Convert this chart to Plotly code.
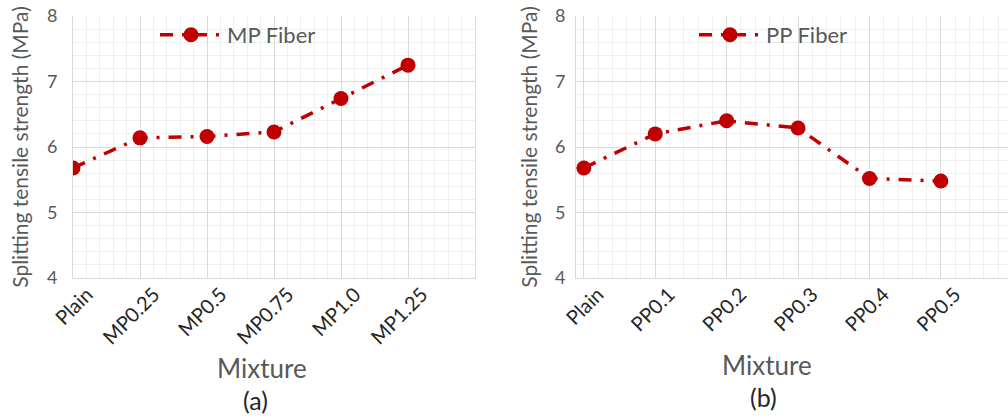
import plotly.graph_objects as go

# Mixture labels and splitting tensile strength (MPa)
mp_mixtures = ["Plain", "MP0.25", "MP0.5", "MP0.75", "MP1.0", "MP1.25"]
mp_strength = [5.68, 6.14, 6.16, 6.23, 6.74, 7.25]

pp_mixtures = ["Plain", "PP0.1", "PP0.2", "PP0.3", "PP0.4", "PP0.5"]
pp_strength = [5.68, 6.20, 6.40, 6.29, 5.52, 5.48]

y_ticks = [4, 5, 6, 7, 8]

W, H = 1008, 419
RED = "#C00000"
GRAY_TXT = "#595959"
FONT = "Lato, 'Open Sans', sans-serif"
DASH = "13px,9px,3px,9px"

fig = go.Figure()

fig.add_trace(go.Scatter(
    x=list(range(len(mp_mixtures))), y=mp_strength, name="MP Fiber",
    mode="lines+markers", xaxis="x", yaxis="y", legend="legend",
    line=dict(color=RED, width=3.5, dash=DASH),
    marker=dict(color=RED, size=15),
))
fig.add_trace(go.Scatter(
    x=list(range(len(pp_mixtures))), y=pp_strength, name="PP Fiber",
    mode="lines+markers", xaxis="x2", yaxis="y2", legend="legend2",
    line=dict(color=RED, width=3.5, dash=DASH),
    marker=dict(color=RED, size=15),
))

def xaxis_style(domain, rng, labels, anchor):
    return dict(
        domain=domain, range=rng, anchor=anchor,
        tickmode="array", tickvals=list(range(len(labels))), ticktext=labels,
        tickangle=-45, tickfont=dict(family=FONT, size=20, color="#262626"),
        ticklabelshift=14, ticklabelstandoff=-4,
        showgrid=True, gridcolor="#D9D9D9", gridwidth=1,
        minor=dict(dtick=0.2, tick0=0, showgrid=True, gridcolor="#EFEFEF", gridwidth=1),
        showline=True, linecolor="#D9D9D9", linewidth=1,
        zeroline=False, ticks="",
        automargin=False,
    )

def yaxis_style(anchor, standoff_lbl, title_gap, mirror):
    return dict(
        range=[4, 8], anchor=anchor, domain=[0, 1],
        tickmode="array", tickvals=y_ticks,
        tickfont=dict(family=FONT, size=18, color=GRAY_TXT),
        ticklabelstandoff=standoff_lbl,
        showgrid=True, gridcolor="#D9D9D9", gridwidth=1,
        minor=dict(dtick=0.2, tick0=4, showgrid=True, gridcolor="#EFEFEF", gridwidth=1),
        showline=True, linecolor="#D9D9D9", linewidth=1, mirror=mirror,
        zeroline=False, ticks="",
        title=dict(text="Splitting tensile strength (MPa)",
                   font=dict(family=FONT, size=21, color=GRAY_TXT), standoff=title_gap),
        automargin=False,
    )

top, bottom = 16, 141
ph = H - top - bottom

def py(y_px):
    # pixel row -> paper coordinate
    return (H - bottom - y_px) / ph

legend_font = dict(family=FONT, size=22, color=GRAY_TXT)

fig.update_layout(
    width=W, height=H,
    margin=dict(l=0, r=0, t=top, b=bottom),
    paper_bgcolor="white", plot_bgcolor="white",
    font=dict(family=FONT),
    xaxis=xaxis_style([73 / W, 475 / W], [0, 6], mp_mixtures, "y"),
    yaxis=yaxis_style("x", 11, 12, True),
    xaxis2=xaxis_style([576 / W, 1.0], [-0.11, 5.94], pp_mixtures, "y2"),
    yaxis2=yaxis_style("x2", 6, 11, False),
    legend=dict(x=155 / W, y=py(35), xanchor="left", yanchor="middle", itemwidth=62,
                bgcolor="rgba(0,0,0,0)", font=legend_font),
    legend2=dict(x=694 / W, y=py(35), xanchor="left", yanchor="middle", itemwidth=62,
                 bgcolor="rgba(0,0,0,0)", font=legend_font),
    showlegend=True,
)

# axis captions and panel labels
for label, xc, yc, size, color in [
    ("Mixture", 262, 368, 26, GRAY_TXT),
    ("Mixture", 767, 365, 26, GRAY_TXT),
    ("(a)", 255, 400, 25, "#262626"),
    ("(b)", 763, 397, 25, "#262626"),
]:
    fig.add_annotation(
        text=label, xref="paper", yref="paper",
        x=xc / W, y=py(yc), xanchor="center", yanchor="middle",
        showarrow=False, font=dict(family=FONT, size=size, color=color),
    )

fig.write_html("out.html")
